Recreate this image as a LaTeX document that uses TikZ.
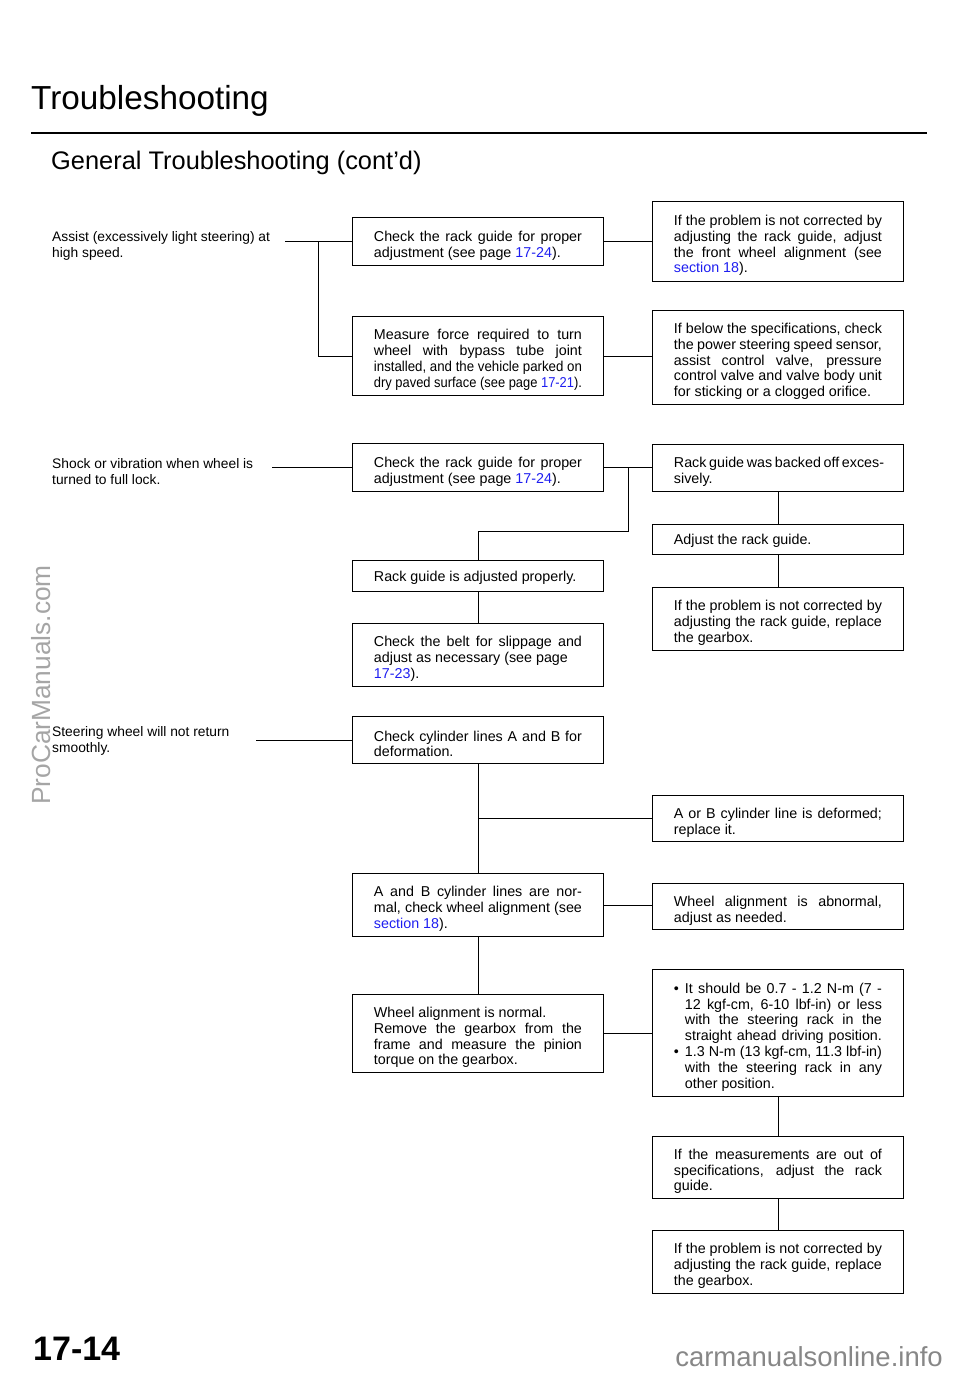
\documentclass[tikz,border=0pt]{standalone}
\usepackage{fontspec}
\usepackage{graphicx}
\setmainfont{Liberation Sans}
\usetikzlibrary{calc}
\definecolor{refblue}{RGB}{30,30,240}
\definecolor{wmgray}{RGB}{165,165,165}
\definecolor{ftgray}{RGB}{135,135,135}
\newcommand\rf[1]{\textcolor{refblue}{#1}}
\newcommand\jln[1]{\noindent\hbox to \hsize{#1}\par}
\newcommand\sqz[1]{\noindent\resizebox{\hsize}{\height}{#1}\par}
\newcommand\jhl[1]{\noindent\hbox to \hsize{\hspace*{11pt}#1}\par}
\newcommand\bul[1]{\noindent\hbox to \hsize{\makebox[11pt][l]{•}#1}\par}
\newcommand\bodyfont{\fontsize{13.8}{15.8}\selectfont}
\newcommand\boxfont{\fontsize{14.3}{15.8}\selectfont\spaceskip=0pt\xspaceskip=0pt\relax}
\newcommand\boxendfix{\par\kern-8pt}
\begin{document}
\begin{tikzpicture}[x=1pt,y=-1pt,
  box/.style={draw, line width=0.9pt, inner xsep=21.5pt, inner ysep=0pt,
    text width=208pt, align=justify, font=\boxfont, anchor=north west,
    execute at begin node={\spaceskip=0pt\xspaceskip=0pt\relax},
    execute at end node=\boxendfix},
  lbl/.style={inner sep=0pt, align=left, anchor=north west, font=\bodyfont},
  link/.style={line width=0.9pt}]
\useasboundingbox (0,0) rectangle (960,1373);

% headings
\node[anchor=base west, inner sep=0pt, font=\fontsize{33.3}{36}\selectfont] (title) at (31,109) {Troubleshooting};
\coordinate (rl) at (31,133);
\coordinate (rr) at (927,133);
\draw[line width=2pt] (rl) -- (rr);
\node[anchor=base west, inner sep=0pt, font=\fontsize{25.4}{28}\selectfont] (sub) at (51,169) {General Troubleshooting (cont'd)};

% watermark and footer
\node[rotate=90, inner sep=0pt, text=wmgray, font=\fontsize{26.3}{28}\selectfont] (wm) at (41,685) {ProCarManuals.com};
\node[anchor=base west, inner sep=0pt, font=\fontsize{34}{36}\bfseries] (pg) at (33,1360) {17-14};
\node[anchor=base east, inner sep=0pt, text=ftgray, font=\fontsize{27.5}{30}\selectfont] (site) at (943,1366) {carmanualsonline.info};

% symptom labels
\node[lbl] (L1) at (52,231) {Assist (excessively light steering) at\\high speed.};
\node[lbl] (L2) at (52,458) {Shock or vibration when wheel is\\turned to full lock.};
\node[lbl] (L3) at (52,726) {Steering wheel will not return\\smoothly.};

% middle column
\node[box, minimum height=48pt] (B1) at (352,217) {\jln{Check the rack guide for proper}adjustment (see page \rf{17-24}).};
\node[box, minimum height=79pt] (B2) at (352,316) {\jln{Measure force required to turn}\jln{wheel with bypass tube joint}\sqz{installed, and the vehicle parked on}\sqz{dry paved surface (see page \rf{17-21}).}};
\node[box, minimum height=48pt] (B3) at (352,443) {\jln{Check the rack guide for proper}adjustment (see page \rf{17-24}).};
\node[box, minimum height=31pt] (B4) at (352,560) {Rack guide is adjusted properly.};
\node[box, minimum height=63pt] (B5) at (352,623) {\jln{Check the belt for slippage and}adjust as necessary (see page\par\rf{17-23}).};
\node[box, minimum height=47pt] (B6) at (352,716) {\jln{Check cylinder lines A and B for}deformation.};
\node[box, minimum height=63pt] (B7) at (352,873) {\jln{A and B cylinder lines are nor-}\jln{mal, check wheel alignment (see}\rf{section 18}).};
\node[box, minimum height=78pt] (B8) at (352,994) {Wheel alignment is normal.\par\jln{Remove the gearbox from the}\jln{frame and measure the pinion}torque on the gearbox.};

% right column
\node[box, minimum height=80pt] (R1) at (652,201) {\jln{If the problem is not corrected by}\jln{adjusting the rack guide, adjust}\jln{the front wheel alignment (see}\rf{section 18}).};
\node[box, minimum height=94pt] (R2) at (652,310) {\jln{If below the specifications, check}\jln{the power steering speed sensor,}\jln{assist control valve, pressure}\jln{control valve and valve body unit}for sticking or a clogged orifice.};
\node[box, minimum height=47pt] (R3) at (652,444) {\jln{Rack guide was backed off exces-}sively.};
\node[box, minimum height=30pt] (R4) at (652,524) {Adjust the rack guide.};
\node[box, minimum height=63pt] (R5) at (652,587) {\jln{If the problem is not corrected by}\jln{adjusting the rack guide, replace}the gearbox.};
\node[box, minimum height=46pt] (R6) at (652,795) {\jln{A or B cylinder line is deformed;}replace it.};
\node[box, minimum height=46pt] (R7) at (652,883) {\jln{Wheel alignment is abnormal,}adjust as needed.};
\node[box, minimum height=127pt] (R8) at (652,969) {\bul{It should be 0.7 - 1.2 N-m (7 -}\jhl{12 kgf-cm, 6-10 lbf-in) or less}\jhl{with the steering rack in the}\jhl{straight ahead driving position.}\bul{1.3 N-m (13 kgf-cm, 11.3 lbf-in)}\jhl{with the steering rack in any}\hspace*{11pt}other position.};
\node[box, minimum height=62pt] (R9) at (652,1136) {\jln{If the measurements are out of}\jln{specifications, adjust the rack}guide.};
\node[box, minimum height=63pt] (R10) at (652,1230) {\jln{If the problem is not corrected by}\jln{adjusting the rack guide, replace}the gearbox.};

% connectors: assist
\coordinate (s1) at ($(B1.west)+(-67,0)$);
\coordinate (v1) at ($(B1.west)+(-34,0)$);
\draw[link] (s1) -- (B1.west);
\draw[link] (v1) |- (B2.west);
\draw[link] (B1.east) -- (B1.east -| R1.west);
\draw[link] (B2.east) -- (B2.east -| R2.west);

% connectors: shock
\coordinate (s2) at ($(B3.west)+(-80,0)$);
\draw[link] (s2) -- (B3.west);
\draw[link] (B3.east) -- (B3.east -| R3.west);
\coordinate (j1) at ($(B3.east)!0.5!(B3.east -| R3.west)$);
\coordinate (k1) at ($(B4.north)+(0,-29)$);
\draw[link] (j1) |- (k1) -- (B4.north);
\draw[link] (B4.south) -- (B5.north);
\draw[link] (R3.south) -- (R4.north);
\draw[link] (R4.south) -- (R5.north);

% connectors: steering
\coordinate (s3) at ($(B6.west)+(-96,0)$);
\draw[link] (s3) -- (B6.west);
\draw[link] (B6.south) -- (B7.north);
\draw[link] (B6.south |- R6.west) -- (R6.west);
\draw[link] (B7.east) -- (B7.east -| R7.west);
\draw[link] (B7.south) -- (B8.north);
\draw[link] (B8.east) -- (B8.east -| R8.west);
\draw[link] (R8.south) -- (R9.north);
\draw[link] (R9.south) -- (R10.north);
\end{tikzpicture}
\end{document}
